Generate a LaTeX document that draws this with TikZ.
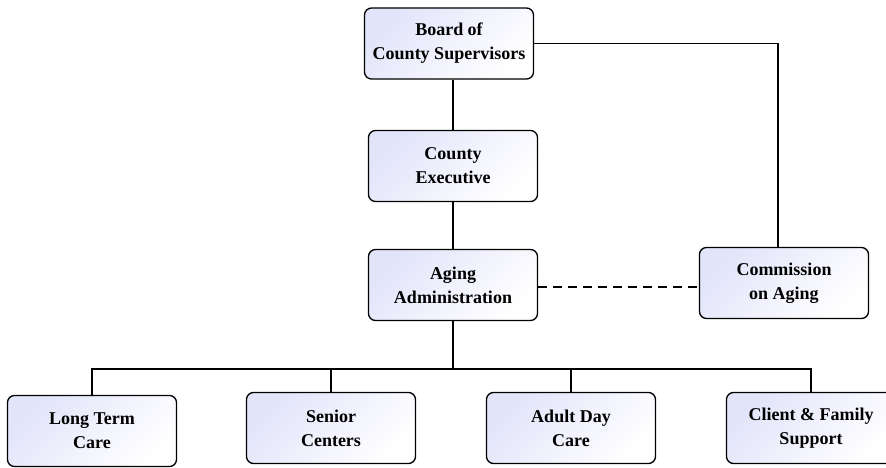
\documentclass[tikz,border=0pt]{standalone}
\usepackage{fontspec}
\setmainfont{Liberation Serif}
\begin{document}
\begin{tikzpicture}[x=1pt,y=-1pt,
  box/.style={draw=black,line width=1.3pt,rounded corners=7pt,minimum width=169pt,minimum height=71pt,
    top color=lav,bottom color=white,shading angle=45,align=center,
    font=\fontsize{18}{24}\selectfont\bfseries,inner sep=0pt},
  conn/.style={line width=1.2pt}]
\definecolor{lav}{RGB}{226,228,250}
\useasboundingbox (0,0) rectangle (886,468);
\node[box] (board) at (449,43.5) {Board of\\County Supervisors};
\node[box] (exec) at (453,166) {County\\Executive};
\node[box] (aging) at (453,285) {Aging\\Administration};
\node[box] (comm) at (784,283) {Commission\\on Aging};
\node[box] (ltc) at (92,431) {Long Term\\Care};
\node[box] (sc) at (331,428) {Senior\\Centers};
\node[box] (adc) at (571,428) {Adult Day\\Care};
\node[box] (cfs) at (811,428) {Client \& Family\\Support};
\coordinate (bus) at (453,369);
\draw[conn] (board.south -| exec) -- (exec.north);
\draw[conn] (exec) -- (aging);
\draw[conn] (board.east) -| (comm.north -| 778,0);
\draw[conn,dashed,dash pattern=on 9pt off 6pt] (aging.east |- 0,287) -- (comm.west |- 0,287);
\draw[conn] (aging.south) -- (bus);
\draw[conn] (ltc.north) |- (bus) -| (cfs.north);
\draw[conn] (sc.north) -- (sc.north |- bus);
\draw[conn] (adc.north) -- (adc.north |- bus);
\end{tikzpicture}
\end{document}
